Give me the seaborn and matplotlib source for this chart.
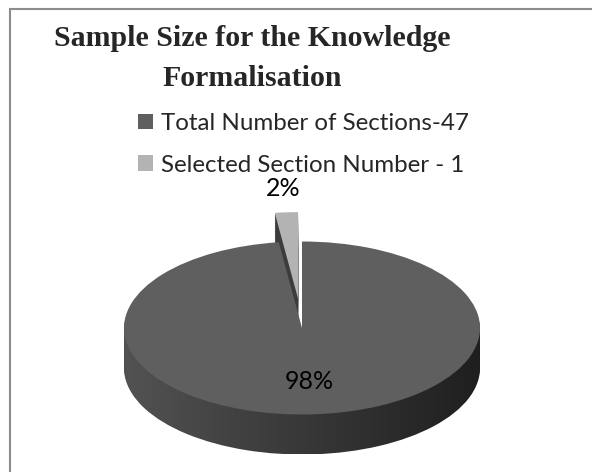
import numpy as np
import matplotlib
matplotlib.use("Agg")
import matplotlib.pyplot as plt
from matplotlib.colors import LinearSegmentedColormap
from matplotlib.patches import Rectangle
import seaborn as sns

# chart data
labels = ["Total Number of Sections-47", "Selected Section Number - 1"]
values = [47, 1]
explode = [0, 0.34]
title = "Sample Size for the Knowledge\nFormalisation"

top_colors = ["#5f5f5f", "#b3b3b3"]
small_side = "#3c3c3c"
side_cmap = LinearSegmentedColormap.from_list("side", ["#525252", "#383838", "#1f1f1f"])

sns.set_style("white")
plt.rcParams["font.family"] = ["Lato", "DejaVu Sans"]

fig = plt.figure(figsize=(5.92, 4.72), dpi=100)
ax = fig.add_axes([0, 0, 1, 1])

# one unit of radius = 178 px across, 86.5 px down (tilted pie)
depth = 40 / 86.5
n_layers = 20
pie_kw = dict(startangle=90, counterclock=False, frame=False,
              wedgeprops=dict(linewidth=0))

# side of the cylinder: stacked copies of the pie, shifted down
grad = np.linspace(0, 1, 256).reshape(1, -1)
for i in range(n_layers, 0, -1):
    dy = -depth * i / n_layers
    wedges, _ = ax.pie(values, center=(0, dy), explode=explode,
                       colors=["none", small_side], **pie_kw)
    z = 1 + (n_layers - i) * 0.01
    wedges[0].set_zorder(z)
    wedges[1].set_zorder(4 + (n_layers - i) * 0.01)
    img = ax.imshow(grad, cmap=side_cmap, extent=(-1, 1, dy - 1, dy + 1),
                    aspect="auto", zorder=z + 0.005)
    img.set_clip_path(wedges[0])

# gap left by the pulled-out slice
notch, _ = ax.pie(values, colors=["none", "white"], **pie_kw)
notch[1].set_zorder(3)

# top faces
top, _, autot = ax.pie(values, explode=explode, colors=top_colors,
                       autopct="%.0f%%", pctdistance=0.62,
                       textprops=dict(fontsize=18, color="black"), **pie_kw)
for w in top:
    w.set_zorder(6)
for t in autot:
    t.set_zorder(10)
w = top[1]
mid = np.deg2rad((w.theta1 + w.theta2) / 2)
cx, cy = w.center
autot[1].set_position((cx + 1.28 * np.cos(mid), cy + 1.28 * np.sin(mid)))

ax.set_xlim(-302 / 178, 290 / 178)
ax.set_ylim(-144 / 86.5, 328 / 86.5)
ax.set_aspect("auto")
ax.axis("off")

ax.legend(top, labels, loc="upper left", bbox_to_anchor=(138 / 592, 1 - 113 / 472),
          bbox_transform=fig.transFigure, frameon=False, fontsize=17.4,
          handlelength=0.62, handleheight=0.62, handletextpad=0.32,
          labelspacing=0.86, borderpad=0, borderaxespad=0)

fig.text(252 / 592, 1 - 25 / 472, title, ha="center", va="top", fontsize=21.5,
         fontweight="bold", family=["Liberation Serif"], linespacing=1.62)

fig.add_artist(Rectangle((10 / 592, -0.1), 1.2, 1.1 - 9 / 472, transform=fig.transFigure,
                         fill=False, edgecolor="#8c8c8c", linewidth=1.5))

fig.savefig("out.png", dpi=100, facecolor="white")
